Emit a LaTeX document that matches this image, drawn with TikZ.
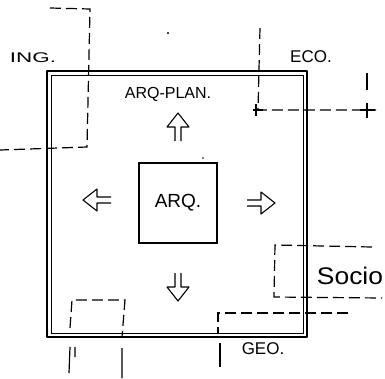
\documentclass[tikz,border=0pt]{standalone}
\usepackage{fontspec}
\setmainfont{Liberation Sans}
\newfontfamily\wideA[FakeStretch=1.6]{Liberation Sans}
\newfontfamily\wideB[FakeStretch=1.1]{Liberation Sans}
\tikzset{
  frame/.style={line width=2.6pt, line join=round},
  innerframe/.style={line width=0.8pt},
  dl/.style={line width=1.2pt, dash pattern=on 11pt off 5pt},
  tick/.style={line width=1.2pt},
  lbl/.style={inner sep=0pt},
  warrow/.pic={\draw[line width=1.1pt, line join=round] (-3,14) -- (-3,0) -- (-11,0) -- (0,-14) -- (11,0) -- (3,0) -- (3,14);}
}
\begin{document}
\begin{tikzpicture}[x=1pt,y=-1pt]
\useasboundingbox (0,0) rectangle (385,378);
% frame
\draw[frame] (47,71) rectangle (307,337);
\draw[innerframe] (51,75) rectangle (303,333);
% central box
\node[draw, line width=1.6pt, minimum width=78pt, minimum height=80pt, font=\fontsize{19}{19}\selectfont] (arq) at (178,203) {ARQ.};
% labels
\node[lbl, font=\wideA\fontsize{14}{14}\selectfont] (ing) at (33,58) {ING.};
\node[lbl, font=\fontsize{17}{17}\selectfont] (eco) at (311,57) {ECO.};
\node[lbl, font=\fontsize{16}{16}\selectfont] (plan) at (168,94) {ARQ-PLAN.};
\node[lbl, font=\wideB\fontsize{24}{24}\selectfont] (socio) at (350,276) {Socio};
\node[lbl, font=\fontsize{17}{17}\selectfont] (geo) at (263,349) {GEO.};
% arrows
\pic at (178,127) {warrow};
\pic[rotate=90] at (97,200) {warrow};
\pic[rotate=-90] at (261,203) {warrow};
\pic[rotate=180] at (178,287) {warrow};
% dashed sketches
\draw[dl] (50,8) -- (90,9) -- (87,147) -- (0,150);
\draw[dl] (260,28) -- (258,110) -- (376,110);
\draw[tick] (253,110) -- (263,110) (256,104) -- (256,116);
\draw[tick] (367,73) -- (367,90) (367,103) -- (367,118) (360,110) -- (375,110);
\draw[dl] (372,247) -- (275,245) -- (274,297) -- (382,298);
\draw[dl] (348,313) -- (218,313) -- (218,334);
\draw[tick] (220,343) -- (220,367);
\draw[dl] (70,328) -- (72,300) -- (125,300) -- (122,337);
\draw[tick] (70,347) -- (69,373) (75,347) -- (75,357) (122,348) -- (122,378);
% specks
\fill (168,33) circle (1.2pt);
\fill (203,158) circle (0.8pt);
\end{tikzpicture}
\end{document}
